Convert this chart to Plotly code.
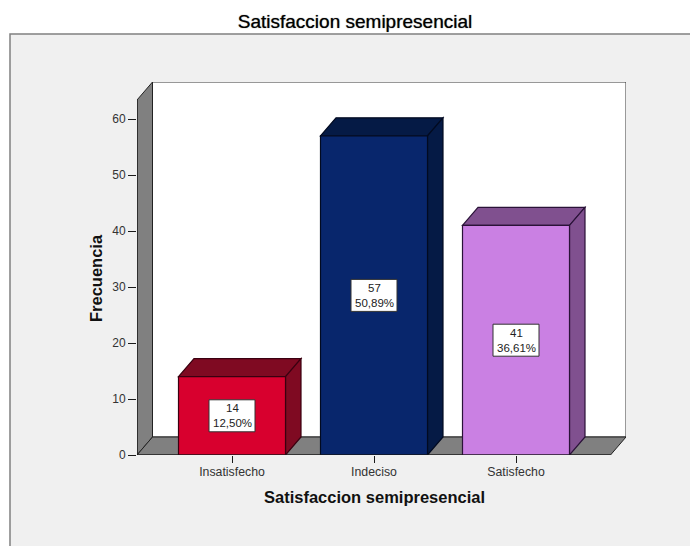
import plotly.graph_objects as go

categories = ["Insatisfecho", "Indeciso", "Satisfecho"]
counts = [14, 57, 41]
percents = ["12,50%", "50,89%", "36,61%"]
y_ticks = [0, 10, 20, 30, 40, 50, 60]

front_colors = ["#d8002e", "#08266c", "#ca80e3"]
dark_colors = ["#7f0a22", "#051a45", "#80508f"]
edge_colors = ["#3a0010", "#020a20", "#2a1238"]

W, H = 690, 546
L, R, T, B = 137, 626, 82, 455
positions = list(range(len(categories)))

# 3d look: depth of the box in data units
px_x = 142.0
px_y = 5.6
dx = 15.5 / px_x
dy = 18 / px_y
bar_w = 107 / px_x
x_lo = -(232 - L) / px_x
x_hi = (R - 232) / px_x
y_hi = (B - T) / px_y
x_front = x_hi - dx
y_front = y_hi - dy
AXIS_DARK = "#1a1a1a"
FONT = "Liberation Sans"


def poly(points, fill, line, width=1):
    path = "M " + " L ".join(f"{a},{b}" for a, b in points) + " Z"
    return dict(type="path", path=path, xref="x", yref="y", fillcolor=fill,
                line=dict(color=line, width=width), layer="below")


def paper_x(v):
    return (v - L) / (R - L)


def paper_y(v):
    return (B - v) / (B - T)


shapes = [
    # grey panel behind everything
    dict(type="rect", xref="paper", yref="paper", x0=paper_x(10), x1=paper_x(W + 2),
         y0=paper_y(H + 2), y1=paper_y(34), fillcolor="#f0f0f0",
         line=dict(color="#808080", width=1.5), layer="below"),
    # back wall, left wall, floor
    poly([(x_lo + dx, dy), (x_lo + dx, y_hi), (x_hi, y_hi), (x_hi, dy)], "#ffffff", "#333333"),
    poly([(x_lo, 0), (x_lo, y_front), (x_lo + dx, y_hi), (x_lo + dx, dy)], "#808080", "#222222"),
    poly([(x_lo, 0), (x_lo + dx, dy), (x_hi, dy), (x_front, 0)], "#808080", "#222222"),
]

fig = go.Figure()
fig.add_trace(go.Bar(x=positions, y=counts, width=bar_w, marker=dict(
    color=front_colors, line=dict(color=edge_colors, width=1.2)), hoverinfo="skip"))

annotations = []
for p, v, pct, dark, edge in zip(positions, counts, percents, dark_colors, edge_colors):
    a, b = p - bar_w / 2, p + bar_w / 2
    shapes.append(poly([(a, v), (a + dx, v + dy), (b + dx, v + dy), (b, v)], dark, edge, 1.2))
    shapes.append(poly([(b, 0), (b, v), (b + dx, v + dy), (b + dx, dy)], dark, edge, 1.2))
    shapes.append(dict(type="rect", xref="x", yref="y", xsizemode="pixel", ysizemode="pixel",
                       xanchor=p, yanchor=v / 2, x0=-23, x1=23, y0=-16, y1=16,
                       fillcolor="#ffffff", line=dict(color="#333333", width=1), layer="above"))
    annotations.append(dict(x=p, y=v / 2, text=f"{v}<br>{pct}", showarrow=False,
                            font=dict(family=FONT, size=11.5, color="#222222")))

# axis titles are centred on the front of the box, not on the plot area
annotations.append(dict(xref="paper", yref="paper", x=paper_x(374), y=paper_y(497),
                        xanchor="center", yanchor="middle",
                        text="<b>Satisfaccion semipresencial</b>", showarrow=False,
                        font=dict(family=FONT, size=16.5, color="#111111")))
annotations.append(dict(xref="paper", yref="paper", x=paper_x(96), y=paper_y(278),
                        xanchor="center", yanchor="middle",
                        text="<b>Frecuencia</b>", showarrow=False, textangle=-90,
                        font=dict(family=FONT, size=16.5, color="#111111")))

# front edges of the frame, these sit on the plot border so must not be clipped
fig.add_trace(go.Scatter(x=[x_lo, x_lo, x_front], y=[y_front, 0, 0], mode="lines",
                         line=dict(color=AXIS_DARK, width=1.2), cliponaxis=False,
                         hoverinfo="skip"))

fig.update_layout(
    width=W, height=H,
    margin=dict(l=L, r=W - R, t=T, b=H - B, pad=0),
    paper_bgcolor="#ffffff", plot_bgcolor="rgba(0,0,0,0)",
    showlegend=False, shapes=shapes, annotations=annotations,
    title=dict(text="Satisfaccion semipresencial", x=355 / W, xanchor="center",
               y=1 - 21 / H, yanchor="middle",
               font=dict(family=FONT, size=19, color="#000000", shadow="0 0 1px rgba(0,0,0,0.7)")),
)
fig.update_xaxes(range=[x_lo, x_hi], tickvals=positions, ticktext=categories, showgrid=False,
                 zeroline=False, showline=False, ticks="outside", ticklen=7, tickcolor=AXIS_DARK,
                 ticklabelstandoff=-2,
                 tickfont=dict(family=FONT, size=12.3, color="#333333"))
fig.update_yaxes(range=[0, y_hi], tickvals=y_ticks, showgrid=False, zeroline=False, showline=False,
                 ticks="outside", ticklen=8, tickcolor=AXIS_DARK,
                 tickfont=dict(family=FONT, size=12, color="#333333"))

fig.write_html("out.html", config=dict(displayModeBar=False),
               post_script="document.body.style.margin='0';")
